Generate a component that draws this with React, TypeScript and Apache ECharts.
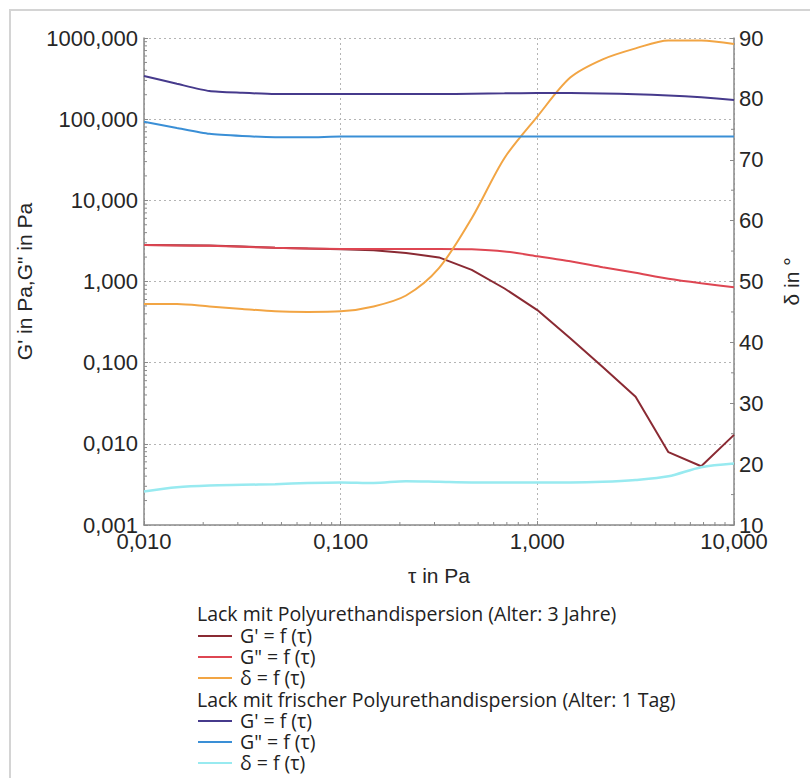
import React, { useEffect, useRef } from "react";
import * as echarts from "echarts";

// Shear stress τ in Pa (amplitude sweep, 6 points per decade)
const tau = [0.01, 0.0147, 0.0215, 0.0316, 0.0464, 0.0681, 0.1, 0.147, 0.215, 0.316, 0.464, 0.681, 1, 1.47, 2.15, 3.16, 4.64, 6.81, 10];

// Lack mit Polyurethandispersion (Alter: 3 Jahre)
const oldStorage = [2.82, 2.8, 2.78, 2.7, 2.6, 2.55, 2.49, 2.42, 2.25, 1.98, 1.39, 0.82, 0.445, 0.2, 0.0885, 0.038, 0.0079, 0.0053, 0.0129];
const oldLoss = [2.82, 2.78, 2.75, 2.68, 2.6, 2.55, 2.52, 2.52, 2.52, 2.52, 2.5, 2.35, 2.05, 1.78, 1.5, 1.28, 1.08, 0.95, 0.85];
const oldPhase = [46.3, 46.3, 45.9, 45.5, 45.1, 45.0, 45.1, 45.9, 47.7, 52.2, 60.4, 70.3, 77.1, 83.5, 86.5, 88.3, 89.6, 89.6, 89.0];

// Lack mit frischer Polyurethandispersion (Alter: 1 Tag)
const freshStorage = [340, 273, 222, 211, 204, 204, 204, 204, 204, 204, 206, 208, 210, 210, 207, 203, 196, 186, 172];
const freshLoss = [93, 78, 66, 62, 60, 60, 61, 61, 61, 61, 61, 61, 61, 61, 61, 61, 61, 61, 61];
const freshPhase = [15.5, 16.2, 16.5, 16.6, 16.7, 16.9, 17.0, 16.9, 17.2, 17.1, 17.0, 17.0, 17.0, 17.0, 17.1, 17.4, 18.0, 19.5, 20.1];

const groupTitles = [
  "Lack mit Polyurethandispersion (Alter: 3 Jahre)",
  "Lack mit frischer Polyurethandispersion (Alter: 1 Tag)",
];
const entryLabels = ["G' = f (τ)", 'G" = f (τ)', "δ = f (τ)"];
const colors = ["#8a2a33", "#de4652", "#f2a544", "#463a8c", "#3a8fd6", "#98eaf0"];

const xDecades = [0.01, 0.1, 1];
const yDecades = [0.001, 0.01, 0.1, 1, 10, 100];
const multipliers = [2, 3, 4, 5, 6, 7, 8, 9];
const phaseMinor = [15, 25, 35, 45, 55, 65, 75, 85];

const fmt = (v: number) => Number(v).toFixed(3).replace(".", ",");
const pair = (ys: number[]) => ys.map((y, i) => [tau[i], y]);

const labelFont = "Arial, 'Liberation Sans', sans-serif";
const legendFont = "'Open Sans', 'Noto Sans', sans-serif";
const textColor = "#262626";

export default function App() {
  const ref = useRef<HTMLDivElement>(null);

  useEffect(() => {
    if (!ref.current) return;
    const chart = echarts.init(ref.current, null, { renderer: "svg" });

    const minorTicks: number[][] = [];
    xDecades.forEach((d) => multipliers.forEach((m) => minorTicks.push([d * m, 0.001, 0])));
    yDecades.forEach((d) => multipliers.forEach((m) => minorTicks.push([0.01, d * m, 1])));
    const phaseTicks = phaseMinor.map((p) => [10, p, 2]);

    const tickRender = (params: any, api: any) => {
      const p = api.coord([api.value(0), api.value(1)]);
      const dir = api.value(2);
      const shape =
        dir === 0
          ? { x1: p[0], y1: p[1], x2: p[0], y2: p[1] - 3 }
          : dir === 1
          ? { x1: p[0], y1: p[1], x2: p[0] + 3, y2: p[1] }
          : { x1: p[0], y1: p[1], x2: p[0] - 3, y2: p[1] };
      return { type: "line", shape, style: { stroke: "#8a8a8a", lineWidth: 1 } };
    };

    const lineSeries = (name: string, data: number[][], color: string, yAxisIndex: number, smooth: number | boolean = false, width = 2) => ({
      name,
      type: "line",
      data,
      yAxisIndex,
      symbol: "none",
      smooth,
      lineStyle: { color, width },
      itemStyle: { color },
      z: 3,
    });

    const legendGraphics: any[] = [];
    const rowY = [613, 635, 656, 677, 699, 720, 741, 762];
    let row = 0;
    groupTitles.forEach((title, g) => {
      legendGraphics.push({
        type: "text",
        x: 197,
        y: rowY[row],
        style: { text: title, font: `19.5px ${legendFont}`, fill: "#222", verticalAlign: "middle", lineHeight: 19 },
      });
      row++;
      entryLabels.forEach((lbl, k) => {
        const y = rowY[row];
        legendGraphics.push({
          type: "line",
          shape: { x1: 198, y1: y + 1, x2: 232, y2: y + 1 },
          style: { stroke: colors[g * 3 + k], lineWidth: 2 },
        });
        legendGraphics.push({
          type: "text",
          x: 240,
          y,
          style: { text: lbl, font: `19.5px ${legendFont}`, fill: "#222", verticalAlign: "middle", lineHeight: 19 },
        });
        row++;
      });
    });

    chart.setOption({
      animation: false,
      backgroundColor: "#ffffff",
      grid: { left: 144, top: 38, right: 75, bottom: 253, containLabel: false },
      xAxis: {
        type: "log",
        logBase: 10,
        min: 0.01,
        max: 10,
        name: "τ in Pa",
        nameLocation: "middle",
        nameGap: 40,
        nameTextStyle: { fontSize: 21, fontFamily: labelFont, color: textColor },
        axisLine: { lineStyle: { color: "#8a8a8a", width: 1.5 } },
        axisTick: { show: true, inside: true, length: 4, lineStyle: { color: "#8a8a8a" } },
        axisLabel: { formatter: fmt, fontSize: 22, fontFamily: labelFont, color: textColor, margin: 5 },
        splitLine: { show: true, lineStyle: { color: "#b4b4b4", type: [2, 3], width: 1 } },
      },
      yAxis: [
        {
          type: "log",
          logBase: 10,
          min: 0.001,
          max: 1000,
          name: 'G\' in Pa,G" in Pa',
          nameLocation: "middle",
          nameGap: 98,
          nameTextStyle: { fontSize: 21, fontFamily: labelFont, color: textColor },
          axisLine: { show: true, lineStyle: { color: "#8a8a8a", width: 1.5 } },
          axisTick: { show: true, inside: true, length: 4, lineStyle: { color: "#8a8a8a" } },
          axisLabel: { formatter: fmt, fontSize: 22, fontFamily: labelFont, color: textColor, margin: 6 },
          splitLine: { show: true, lineStyle: { color: "#b4b4b4", type: [2, 3], width: 1 } },
        },
        {
          type: "value",
          min: 10,
          max: 90,
          interval: 10,
          position: "right",
          name: "δ in °",
          nameLocation: "middle",
          nameRotate: 90,
          nameGap: 47,
          nameTextStyle: { fontSize: 21, fontFamily: labelFont, color: textColor },
          axisLine: { show: true, lineStyle: { color: "#8a8a8a", width: 1.5 } },
          axisTick: { show: true, inside: true, length: 4, lineStyle: { color: "#8a8a8a" } },
          axisLabel: { fontSize: 22, fontFamily: labelFont, color: textColor, margin: 5 },
          splitLine: { show: false },
        },
      ],
      series: [
        lineSeries("G' 3 Jahre", pair(oldStorage), colors[0], 0),
        lineSeries('G" 3 Jahre', pair(oldLoss), colors[1], 0, 0.2),
        lineSeries("δ 3 Jahre", pair(oldPhase), colors[2], 1, 0.3),
        lineSeries("G' 1 Tag", pair(freshStorage), colors[3], 0, 0.2),
        lineSeries('G" 1 Tag', pair(freshLoss), colors[4], 0, 0.2),
        lineSeries("δ 1 Tag", pair(freshPhase), colors[5], 1, 0.3, 2.5),
        {
          type: "custom",
          silent: true,
          yAxisIndex: 0,
          data: minorTicks,
          renderItem: tickRender,
          clip: false,
          z: 2,
        },
        {
          type: "custom",
          silent: true,
          yAxisIndex: 1,
          data: phaseTicks,
          renderItem: tickRender,
          clip: false,
          z: 2,
        },
      ],
      graphic: [
        {
          type: "rect",
          shape: { x: 10, y: 10, width: 830, height: 800 },
          style: { fill: "none", stroke: "#d4d4d4", lineWidth: 2 },
          silent: true,
        },
        ...legendGraphics,
      ],
    });

    return () => chart.dispose();
  }, []);

  return (
    <div
      ref={ref}
      style={{ position: "absolute", left: 0, top: 0, width: 810, height: 778 }}
    />
  );
}
